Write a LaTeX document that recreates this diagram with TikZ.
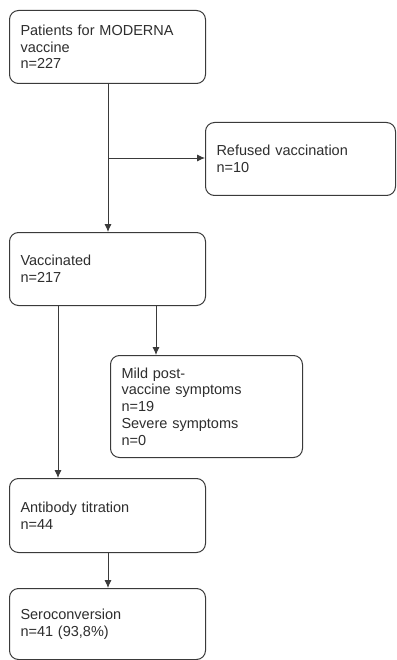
\documentclass[tikz,border=0pt]{standalone}
\usepackage{fontspec}
\setmainfont{Liberation Sans}
\usetikzlibrary{arrows.meta}
\definecolor{linec}{HTML}{3A3A3A}
\definecolor{textc}{HTML}{2E2E2E}
\tikzset{
  flowbox/.style={draw=linec, line width=1pt, rounded corners=9pt, fill=white,
    anchor=north west, inner xsep=11pt, inner ysep=0pt, align=left,
    text=textc, font=\fontsize{14.5}{16.7}\selectfont},
  conn/.style={draw=linec, line width=0.9pt, -{Latex[length=8pt,width=7pt]}}
}
\begin{document}
\begin{tikzpicture}[x=1pt,y=-1pt]
\useasboundingbox (0,0) rectangle (396,660);
\node[flowbox, minimum width=196pt, minimum height=73pt, text width=174pt] (pat) at (9,10)
  {Patients for MODERNA\\vaccine\\n=227};
\node[flowbox, minimum width=190pt, minimum height=73pt, text width=168pt] (ref) at (205,122)
  {Refused vaccination\\n=10};
\node[flowbox, minimum width=196pt, minimum height=73pt, text width=174pt] (vac) at (9,232)
  {Vaccinated\\n=217};
\node[flowbox, minimum width=192pt, minimum height=102pt, text width=170pt] (mild) at (110,355)
  {Mild post-\\vaccine symptoms\\n=19\\Severe symptoms\\n=0};
\node[flowbox, minimum width=196pt, minimum height=74pt, text width=174pt] (ab) at (9,478)
  {Antibody titration\\n=44};
\node[flowbox, minimum width=196pt, minimum height=71pt, text width=174pt] (sero) at (9,588)
  {Seroconversion\\n=41 (93,8\%)};
\coordinate (split) at (108,158);
\draw[conn] (pat.south -| split) -- (vac.north -| split);
\draw[conn] (split) -- (ref.west |- split);
\coordinate (mx) at (156,0);
\coordinate (ax) at (58,0);
\draw[conn] (vac.south -| mx) -- (mild.north -| mx);
\draw[conn] (vac.south -| ax) -- (ab.north -| ax);
\draw[conn] (ab.south -| split) -- (sero.north -| split);
\end{tikzpicture}
\end{document}
